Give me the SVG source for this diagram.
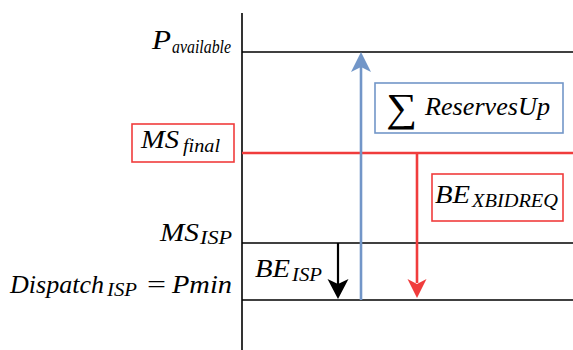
<svg xmlns="http://www.w3.org/2000/svg" width="573" height="350" viewBox="0 0 573 350">
<style>
text{fill:#000;font-weight:normal}
.lvl{stroke:#000;stroke-width:1.6;fill:none}
.red{stroke:#f03c3c;fill:none}
.blue{stroke:#7296c8;fill:none}
</style>
<defs>
<marker id="ab" markerUnits="userSpaceOnUse" viewBox="-21 -11 22 22" markerWidth="22" markerHeight="22" refX="-15" refY="0" orient="auto"><path d="M0,0 L-20,-10 L-15,0 L-20,10 Z" fill="#7296c8"/></marker>
<marker id="ar" markerUnits="userSpaceOnUse" viewBox="-21 -11 22 22" markerWidth="22" markerHeight="22" refX="-15" refY="0" orient="auto"><path d="M0,0 L-19,-9.5 L-14,0 L-19,9.5 Z" fill="#f03c3c"/></marker>
<marker id="ak" markerUnits="userSpaceOnUse" viewBox="-21 -11 22 22" markerWidth="22" markerHeight="22" refX="-15" refY="0" orient="auto"><path d="M0,0 L-20,-10.5 L-15,0 L-20,10.5 Z" fill="#000"/></marker>
</defs>
<rect width="573" height="350" fill="#fff"/>
<g id="axis"><line class="lvl" x1="242" y1="13" x2="242" y2="350"/></g>
<g font-family="'Liberation Serif', 'Times New Roman', Times, 'DejaVu Serif', serif" font-style="italic" font-size="25">
<g id="p-available">
<line class="lvl" x1="242" y1="52" x2="573" y2="52"/>
<text x="152" y="49" font-size="27" textLength="19" lengthAdjust="spacingAndGlyphs">P</text>
<text x="172" y="53" font-size="18" textLength="59" lengthAdjust="spacingAndGlyphs">available</text>
</g>
<g id="ms-final">
<line class="red" stroke-width="2.6" x1="242" y1="153" x2="573" y2="153"/>
<rect class="red" stroke-width="1.6" x="132" y="124" width="102" height="38"/>
<text x="141" y="148" textLength="38" lengthAdjust="spacingAndGlyphs">MS</text>
<text x="183" y="152" font-size="18" textLength="37" lengthAdjust="spacingAndGlyphs">final</text>
</g>
<g id="ms-isp">
<line class="lvl" x1="242" y1="243" x2="573" y2="243"/>
<text x="160" y="241" textLength="39" lengthAdjust="spacingAndGlyphs">MS</text>
<text x="200" y="244" font-size="18" textLength="32" lengthAdjust="spacingAndGlyphs">ISP</text>
</g>
<g id="dispatch-isp">
<line class="lvl" x1="242" y1="300" x2="573" y2="300"/>
<text x="10" y="293" textLength="94" lengthAdjust="spacingAndGlyphs">Dispatch</text>
<text x="107" y="296" font-size="18" textLength="30" lengthAdjust="spacingAndGlyphs">ISP</text>
<text x="147" y="293" font-style="normal" textLength="19" lengthAdjust="spacingAndGlyphs">=</text>
<text x="172" y="293" textLength="60" lengthAdjust="spacingAndGlyphs">Pmin</text>
</g>
<g id="reserves-up">
<rect class="blue" stroke-width="1.6" x="375" y="83" width="188" height="50"/>
<text x="386" y="121" font-style="normal" font-size="40" textLength="31" lengthAdjust="spacingAndGlyphs">∑</text>
<text x="425" y="115" textLength="125" lengthAdjust="spacingAndGlyphs">ReservesUp</text>
</g>
<g id="be-xbidreq">
<rect class="red" stroke-width="1.6" x="432" y="174" width="131" height="47"/>
<text x="435" y="203" textLength="35" lengthAdjust="spacingAndGlyphs">BE</text>
<text x="472" y="207" font-size="18" textLength="86" lengthAdjust="spacingAndGlyphs">XBIDREQ</text>
</g>
<g id="be-isp">
<text x="255" y="277" textLength="35" lengthAdjust="spacingAndGlyphs">BE</text>
<text x="292" y="281" font-size="18" textLength="30" lengthAdjust="spacingAndGlyphs">ISP</text>
</g>
</g>
<g id="connectors">
<line class="blue" stroke-width="2.6" x1="361" y1="300" x2="361" y2="67" marker-end="url(#ab)"/>
<line class="red" stroke-width="2.6" x1="417" y1="153" x2="417" y2="283" marker-end="url(#ar)"/>
<line stroke="#000" stroke-width="2.2" x1="338" y1="243" x2="338" y2="284" marker-end="url(#ak)"/>
</g>
</svg>
